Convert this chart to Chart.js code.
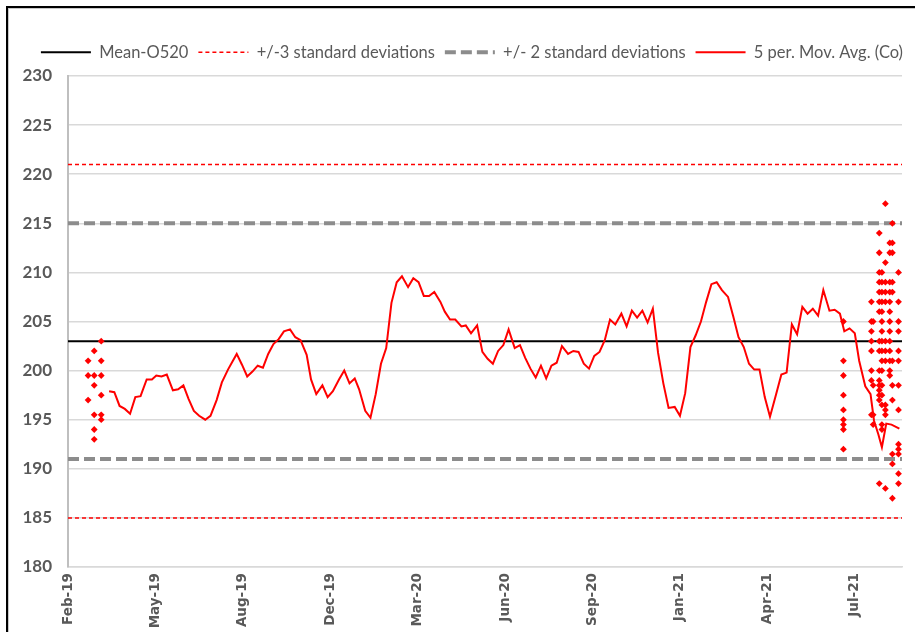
<!DOCTYPE html>
<html><head><meta charset="utf-8">
<script src="https://cdn.jsdelivr.net/npm/chart.js@4/dist/chart.umd.min.js"></script>
<style>
html,body{margin:0;padding:0;background:#fff;overflow:hidden;width:915px;height:632px;}
#frame{position:absolute;left:6px;top:6px;width:1000px;height:700px;border:2px solid #000;box-shadow:inset 1px 1px 0 #c8c8c8;}
#wrap{position:absolute;left:0;top:0;width:915px;height:632px;}
</style></head><body>
<div id="frame"></div>
<div id="wrap"><canvas id="c" width="915" height="632"></canvas></div>
<script>
// ---- data ----
const axisStart = Date.UTC(2019, 1, 5);      // day 0 of the date axis
const axisDays = 954;                         // span of the date axis (days)
const tickStepDays = 100;
const monthNames = ['Jan','Feb','Mar','Apr','May','Jun','Jul','Aug','Sep','Oct','Nov','Dec'];

const meanValue = 203;
const sd3Upper = 221, sd3Lower = 185;
const sd2Upper = 215, sd2Lower = 191;

const avgDays = [
  47,53,59,65,71,77,83,90,96,101,
  107,113,120,126,132,138,144,150,157,163,
  170,176,183,188,193,199,205,211,217,223,
  229,235,241,247,254,260,266,273,278,284,
  291,297,303,310,316,322,328,333,340,346,
  352,358,364,370,376,382,389,395,401,407,
  413,419,426,431,437,443,450,455,461,468,
  474,480,486,492,498,504,511,517,523,529,
  535,541,547,553,559,565,572,578,584,590,
  596,602,608,614,620,626,633,639,645,651,
  657,663,669,675,681,687,694,700,706,712,
  718,724,730,736,742,748,755,761,767,773,
  779,785,791,797,803,810,816,822,828,834,
  840,846,852,858,864,871,877,883,888,894,
  900,905,912,918,922,927,931,936,942,951
];
const avgValues = [
  197.9,197.8,196.4,196.1,195.6,197.3,197.4,199.1,199.1,199.5,
  199.4,199.6,198.0,198.1,198.5,197.1,195.9,195.4,195.0,195.4,
  197.0,198.8,200.1,200.9,201.7,200.6,199.4,199.9,200.5,200.3,
  201.7,202.7,203.2,204.0,204.2,203.4,203.1,201.6,199.1,197.6,
  198.5,197.3,197.9,199.1,200.0,198.7,199.2,198.1,195.9,195.2,
  197.6,200.7,202.3,206.9,209.0,209.6,208.5,209.4,209.0,207.6,
  207.6,208.0,207.0,206.0,205.2,205.2,204.5,204.6,203.8,204.6,
  201.9,201.2,200.7,202.0,202.6,204.2,202.3,202.6,201.3,200.2,
  199.3,200.5,199.2,200.5,200.8,202.5,201.7,202.0,201.9,200.7,
  200.2,201.5,201.9,203.1,205.2,204.7,205.8,204.5,206.1,205.4,
  206.1,204.9,206.3,201.8,198.7,196.2,196.3,195.4,197.7,202.4,
  203.6,205.0,207.0,208.8,209.0,208.2,207.5,205.5,203.4,202.4,
  200.7,200.1,200.1,197.3,195.3,197.6,199.6,199.8,204.7,203.7,
  206.5,205.8,206.3,205.6,208.2,206.1,206.2,205.8,204.0,204.3,
  203.8,201.0,198.4,197.6,194.9,193.5,192.2,194.6,194.5,194.1
];

const sampleDays = [23, 30, 38, 887, 919, 921, 928, 931, 935, 940, 943, 950];
const sampleValues = [
  [201, 199.5, 197],
  [202, 199.5, 198.5, 195.5, 194, 193],
  [203, 201, 199.5, 197.5, 195.5, 195],
  [205, 201, 199.5, 197.5, 196, 195, 194.5, 194, 192],
  [207, 205, 204, 203, 202, 200, 199, 195.5],
  [205, 198.5, 195.5, 194.5],
  [214, 212, 210, 209, 208, 207, 206, 203, 202, 200, 199, 198.5, 198, 197.5, 197, 188.5],
  [210, 209, 208, 207, 206, 205, 204, 203, 202, 201, 200, 198.5, 197.5, 196.5, 194.5, 194],
  [217, 211, 209, 208, 207, 203, 202, 201, 196.5, 196, 195.5, 188],
  [213, 212, 209, 208, 207, 206, 205, 204, 203, 202, 201, 200, 199.5],
  [215, 213, 212, 209, 208, 201, 198.5, 197, 191.5, 190.5, 187],
  [210, 207, 205, 204, 202, 201, 198.5, 196, 192.5, 192, 191.5, 189.5, 188.5]
];

// ---- build ----
const hline = v => [{x: 0, y: v}, {x: axisDays, y: v}];
const avgPoints = avgDays.map((d, i) => ({x: d, y: avgValues[i]}));
const coPoints = sampleDays.flatMap((d, i) => sampleValues[i].map(v => ({x: d, y: v})));

function dayLabel(v) {
  const dt = new Date(axisStart + v * 86400000);
  return monthNames[dt.getUTCMonth()] + '-' + String(dt.getUTCFullYear()).slice(2);
}

const legendHeight = {
  id: 'legendHeight',
  beforeInit(chart) {
    const lg = chart.legend;
    if (!lg) return;
    const orig = lg.fit;
    lg.fit = function () { orig.call(this); this.height = 42; };
  }
};

const lineBase = {pointRadius: 0, pointHoverRadius: 0, fill: false, tension: 0};

new Chart(document.getElementById('c'), {
  type: 'line',
  data: {
    datasets: [
      Object.assign({label: 'Mean-O520', data: hline(meanValue), borderColor: '#000000', borderWidth: 2, order: 2}, lineBase),
      Object.assign({label: '+/-3 standard deviations', data: hline(sd3Upper), borderColor: '#ff0000', borderWidth: 1.5, borderDash: [4, 3], order: 3}, lineBase),
      Object.assign({label: '+/- 2 standard deviations', data: hline(sd2Upper), borderColor: '#8c8c8c', borderWidth: 4, borderDash: [11, 5], order: 4}, lineBase),
      Object.assign({label: '5 per. Mov. Avg. (Co)', data: avgPoints, borderColor: '#ff0000', borderWidth: 2, order: 1}, lineBase),
      Object.assign({label: '-3 sd', data: hline(sd3Lower), borderColor: '#ff0000', borderWidth: 1.5, borderDash: [4, 3], order: 3}, lineBase),
      Object.assign({label: '-2 sd', data: hline(sd2Lower), borderColor: '#8c8c8c', borderWidth: 4, borderDash: [11, 5], order: 4}, lineBase),
      {label: 'Co', type: 'scatter', data: coPoints, showLine: false, pointStyle: 'rectRot',
       pointRadius: 3.4, pointHoverRadius: 3.4, backgroundColor: '#ff0000', borderColor: '#ff0000', borderWidth: 0, order: 0}
    ]
  },
  options: {
    responsive: false,
    animation: false,
    events: [],
    layout: {padding: {left: 10, right: 2, top: 34, bottom: 0}},
    plugins: {
      tooltip: {enabled: false},
      legend: {
        display: true,
        position: 'top',
        align: 'end',
        labels: {
          usePointStyle: true,
          pointStyle: 'line',
          pointStyleWidth: 50,
          padding: 10,
          color: '#595959',
          font: {family: 'Lato', size: 16.5},
          generateLabels: chart => Chart.defaults.plugins.legend.labels.generateLabels(chart).map(item => {
            const ds = chart.data.datasets[item.datasetIndex];
            item.lineDash = ds.borderDash || [];
            item.lineWidth = ds.borderWidth;
            item.strokeStyle = ds.borderColor;
            return item;
          }),
          filter: item => item.datasetIndex < 4,
          sort: (a, b) => a.datasetIndex - b.datasetIndex
        }
      }
    },
    scales: {
      x: {
        type: 'linear',
        min: 0,
        max: axisDays,
        afterFit: s => { s.height = 65; },
        grid: {display: false, drawTicks: false},
        border: {display: true, color: '#d9d9d9', width: 1.5},
        ticks: {
          stepSize: tickStepDays,
          includeBounds: false,
          autoSkip: false,
          maxRotation: 90,
          minRotation: 90,
          padding: 6,
          color: '#595959',
          font: {family: 'DejaVu Sans', size: 13.5, weight: 'bold'},
          callback: v => dayLabel(v)
        }
      },
      y: {
        min: 180,
        max: 230,
        afterFit: s => { s.width = 58; },
        grid: {color: '#d9d9d9', lineWidth: 1.5, drawTicks: false},
        border: {display: true, color: '#bfbfbf', width: 2},
        ticks: {
          stepSize: 5,
          padding: 16,
          color: '#595959',
          font: {family: 'Lato', size: 17, weight: 'bold'}
        }
      },
      yPad: {
        type: 'linear',
        position: 'right',
        display: true,
        afterFit: s => { s.width = 11; },
        grid: {display: false, drawTicks: false},
        border: {display: false},
        ticks: {display: false}
      }
    }
  },
  plugins: [legendHeight]
});
</script>
</body></html>
